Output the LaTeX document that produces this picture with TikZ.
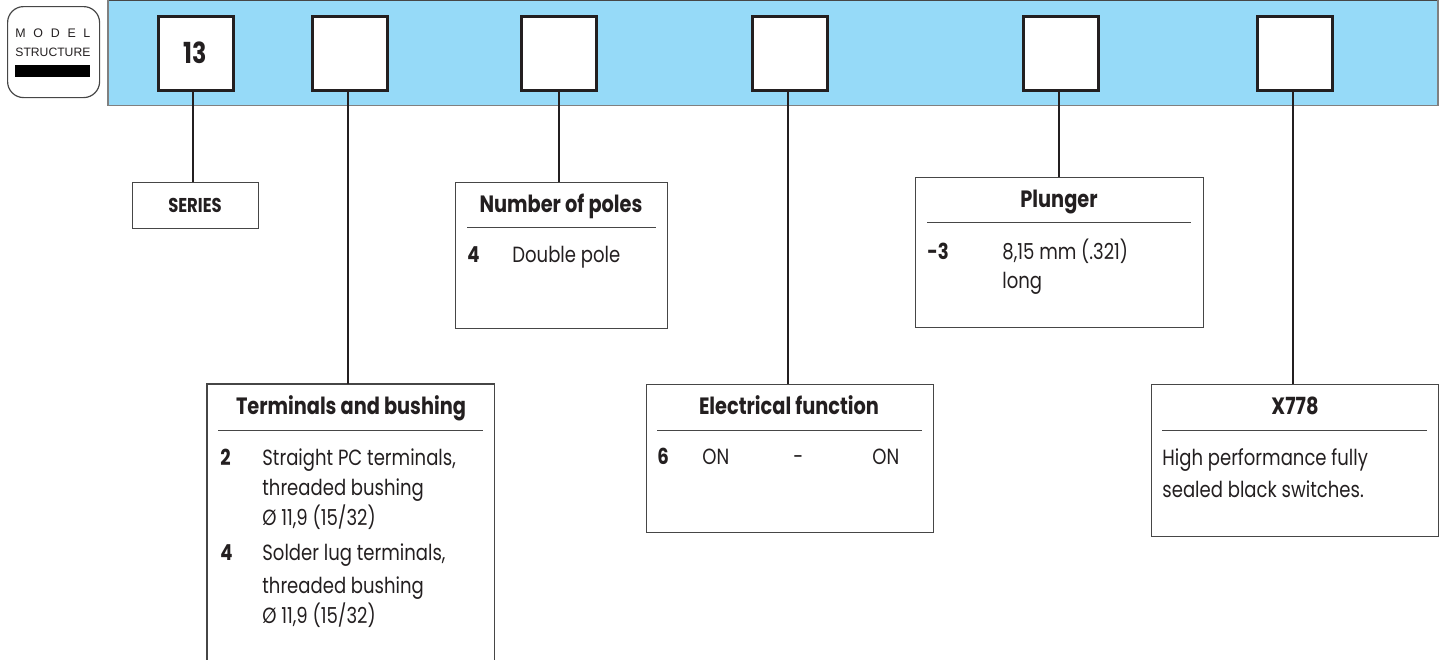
\documentclass[tikz,border=0pt]{standalone}
\usepackage{fontspec}
\setmainfont{Poppins}[FakeStretch=0.82]
\newfontfamily\logofont{Liberation Sans}
\definecolor{bandblue}{RGB}{150,218,248}
\definecolor{ink}{RGB}{35,31,32}
\definecolor{framegray}{RGB}{70,70,70}
\tikzset{
  slot/.style={draw=ink, line width=1.5pt, fill=white, minimum width=37.5pt, minimum height=37pt, inner sep=0pt, font=\fontsize{14.5}{16}\bfseries\selectfont, text=ink},
  frame/.style={draw=framegray, line width=0.6pt, inner sep=0pt, anchor=north west},
  conn/.style={draw=ink, line width=0.7pt},
  sep/.style={draw=framegray, line width=0.5pt},
  ttl/.style={anchor=base, inner sep=0pt, text=ink, font=\fontsize{11.8}{14}\bfseries\selectfont},
  num/.style={anchor=base west, inner sep=0pt, text=ink, font=\fontsize{11}{15}\bfseries\selectfont},
  body/.style={anchor=base west, inner sep=0pt, text=ink, font=\fontsize{11}{15}\selectfont},
}
\begin{document}
\begin{tikzpicture}[x=0.5pt,y=-0.5pt]
\useasboundingbox (0,0) rectangle (1446,659);
% logo
\node[draw=framegray, line width=0.6pt, rounded corners=8pt, minimum width=46pt, minimum height=45.5pt, anchor=north west, inner sep=0pt] (logo) at (7,6) {};
\node[anchor=base west, inner sep=0pt, text=ink] (logoA) at (15,37) {\logofont\fontsize{6.2}{7}\selectfont\makebox[37.5pt][s]{M\hfill O\hfill D\hfill E\hfill L}};
\node[anchor=base west, inner sep=0pt, text=ink] (logoB) at (15,56) {\logofont\fontsize{6.5}{7}\selectfont\resizebox{37.5pt}{!}{STRUCTURE}};
\fill[black] (15,65) rectangle (90,77);
% band
\fill[bandblue] (108,0) rectangle (1438,106);
\draw[draw=framegray, line width=0.7pt] (108,0.5) -- (1438,0.5);
\draw[draw=gray, line width=0.7pt] (1438,0) -- (1438,105.5) -- (108,105.5) -- (108,0);
% slots
\node[slot] (s1) at (195.5,53) {13};
\node[slot] (s2) at (349.5,53) {};
\node[slot] (s3) at (559,53) {};
\node[slot] (s4) at (789.5,53) {};
\node[slot] (s5) at (1060.5,53) {};
\node[slot] (s6) at (1294.5,53) {};
% lower frames
\node[frame, minimum width=63pt, minimum height=23pt] (series) at (132,182) {};
\node[frame, minimum width=106pt, minimum height=73pt] (poles) at (455,182) {};
\node[frame, minimum width=144pt, minimum height=75pt] (plunger) at (915,177) {};
\node[frame, draw=none, minimum width=143pt, minimum height=138pt] (term) at (207,384) {};
\draw[draw=framegray, line width=0.6pt] (term.south west) -- (term.north west) -- (term.north east) -- (term.south east);
\node[frame, minimum width=143.5pt, minimum height=74pt] (elec) at (646,384) {};
\node[frame, minimum width=143.5pt, minimum height=76pt] (x778) at (1151,384) {};
% connectors
\draw[conn] ([xshift=-1.25pt]s1.south) -- ([xshift=-1.25pt]s1.south |- series.north);
\draw[conn] ([xshift=-0.75pt]s2.south) -- ([xshift=-0.75pt]s2.south |- term.north);
\draw[conn] (s3.south) -- (s3.south |- poles.north);
\draw[conn] ([xshift=-0.75pt]s4.south) -- ([xshift=-0.75pt]s4.south |- elec.north);
\draw[conn] ([xshift=-0.75pt]s5.south) -- ([xshift=-0.75pt]s5.south |- plunger.north);
\draw[conn] ([xshift=-0.75pt]s6.south) -- ([xshift=-0.75pt]s6.south |- x778.north);
% SERIES
\node[ttl, font=\fontsize{10}{12}\bfseries\selectfont] (seriesT) at (195,212) {SERIES};
% Number of poles
\node[ttl] (polesT) at (561,212) {Number of poles};
\draw[sep] (467,227) -- (656,227);
\node[num] (polesN) at (467,262) {4};
\node[body] (polesB) at (512,262) {Double pole};
% Plunger
\node[ttl] (plungerT) at (1059,207) {Plunger};
\draw[sep] (927,222) -- (1191,222);
\node[num] (plungerN) at (927,259) {-3};
\node[body] (plungerB1) at (1002,259) {8,15 mm (.321)};
\node[body] (plungerB2) at (1002,288) {long};
% Terminals
\node[ttl] (termT) at (351,414) {Terminals and bushing};
\draw[sep] (218,430) -- (483,430);
\node[num] (termN1) at (220,465) {2};
\node[body] (termB1) at (262,465) {Straight PC terminals,};
\node[body] (termB2) at (262,495) {threaded bushing};
\node[body] (termB3) at (262,525) {Ø 11,9 (15/32)};
\node[num] (termN2) at (220,560) {4};
\node[body] (termB4) at (262,560) {Solder lug terminals,};
\node[body] (termB5) at (262,593) {threaded bushing};
\node[body] (termB6) at (262,623) {Ø 11,9 (15/32)};
% Electrical
\node[ttl] (elecT) at (789,414) {Electrical function};
\draw[sep] (657,430) -- (922,430);
\node[num] (elecN) at (657,464) {6};
\node[body] (elecB1) at (702,464) {ON};
\node[body] (elecB2) at (793,464) {-};
\node[body] (elecB3) at (872,464) {ON};
% X778
\node[ttl] (x778T) at (1295,414) {X778};
\draw[sep] (1162,430) -- (1427,430);
\node[body] (x778B1) at (1162,465) {High performance fully};
\node[body] (x778B2) at (1162,497) {sealed black switches.};
\end{tikzpicture}
\end{document}
